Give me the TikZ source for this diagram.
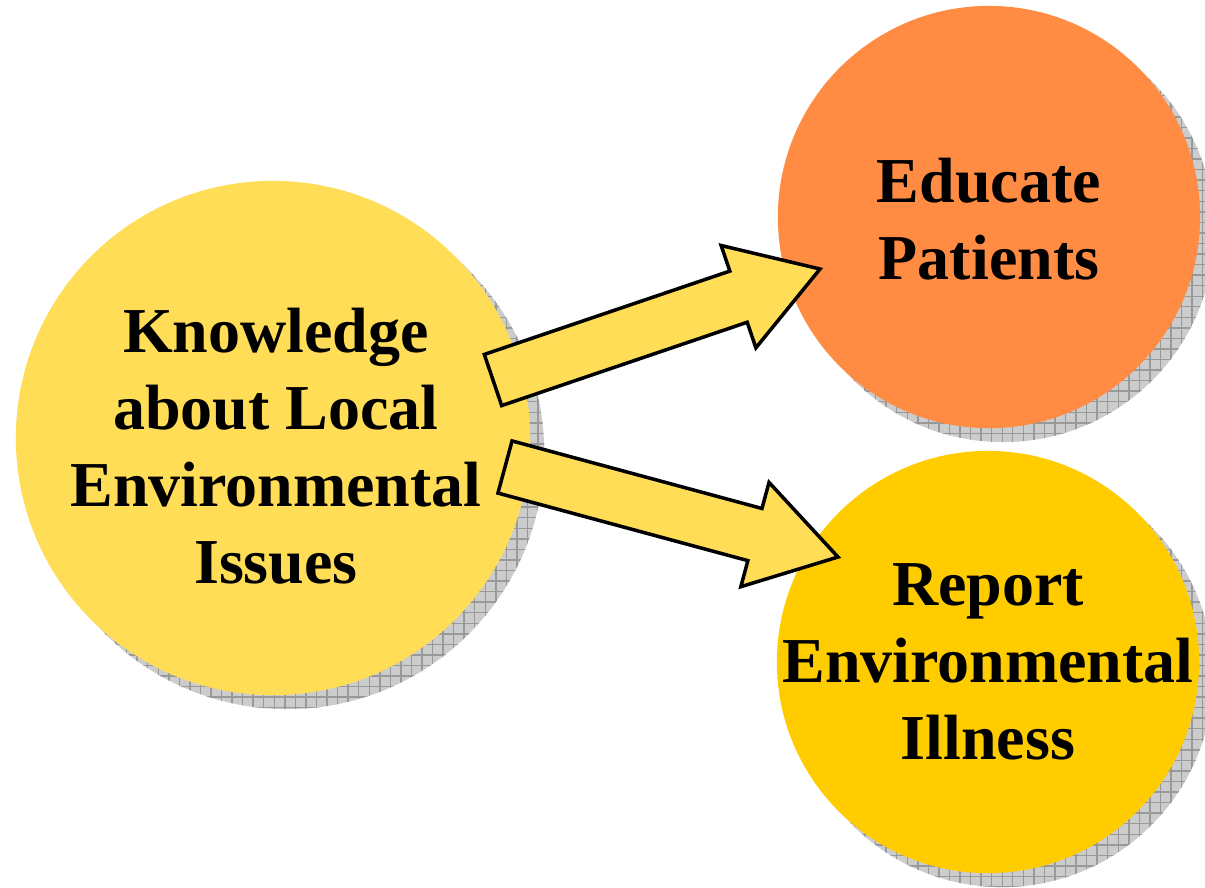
\documentclass[tikz,border=0pt]{standalone}
\usepackage{fontspec}
\setmainfont{Liberation Serif}
\usetikzlibrary{calc,shadows,patterns}
\definecolor{paleyellow}{RGB}{255,221,87}
\definecolor{brightorange}{RGB}{255,140,66}
\definecolor{deepgold}{RGB}{255,204,0}

% fat block arrow from #1 to #2
\newcommand{\blockarrow}[2]{%
  \coordinate (#1-h) at ($(#2)!0.86cm!(#1)$);
  \draw[flowarrow] ($(#1)!0.27cm!90:(#2)$) -- ($(#1-h)!0.27cm!90:(#2)$)
    -- ($(#1-h)!0.54cm!90:(#2)$) -- (#2) -- ($(#1-h)!0.54cm!-90:(#2)$)
    -- ($(#1-h)!0.27cm!-90:(#2)$) -- ($(#1)!0.27cm!-90:(#2)$) -- cycle;
}

\begin{document}
\begin{tikzpicture}[
    x=0.01cm, y=-0.01cm,
    bubble/.style={circle, inner sep=0pt,
        drop shadow={shadow xshift=0.14cm, shadow yshift=-0.14cm, fill=gray!40, opacity=1},
        drop shadow={shadow xshift=0.14cm, shadow yshift=-0.14cm, pattern=grid, pattern color=gray!80, opacity=1}},
    bubbletext/.style={align=center, inner sep=0pt, font=\fontsize{18.2}{21.9}\selectfont\bfseries},
    source/.style={bubble, fill=paleyellow, minimum size=5.14cm},
    educate/.style={bubble, fill=brightorange, minimum size=4.22cm},
    report/.style={bubble, fill=deepgold, minimum size=4.22cm},
    flowarrow/.style={draw, line width=1pt, fill=paleyellow, line join=miter}
]
\useasboundingbox (0,0) rectangle (1205,887);

\node[source, label={[bubbletext, xshift=0.03cm, yshift=-0.08cm]center:Knowledge\\about Local\\Environmental\\Issues}] (know) at (273,438) {};
\node[educate, label={[bubbletext, yshift=-0.02cm]center:Educate\\Patients}] (patients) at (989,217) {};
\node[report, label={[bubbletext]center:Report\\Environmental\\Illness}] (illness) at (988,662) {};

\coordinate (upTail) at (493,380);
\coordinate (upTip) at (820,269);
\coordinate (downTail) at (505,467);
\coordinate (downTip) at (838,557);

\blockarrow{upTail}{upTip}
\blockarrow{downTail}{downTip}

\end{tikzpicture}
\end{document}
